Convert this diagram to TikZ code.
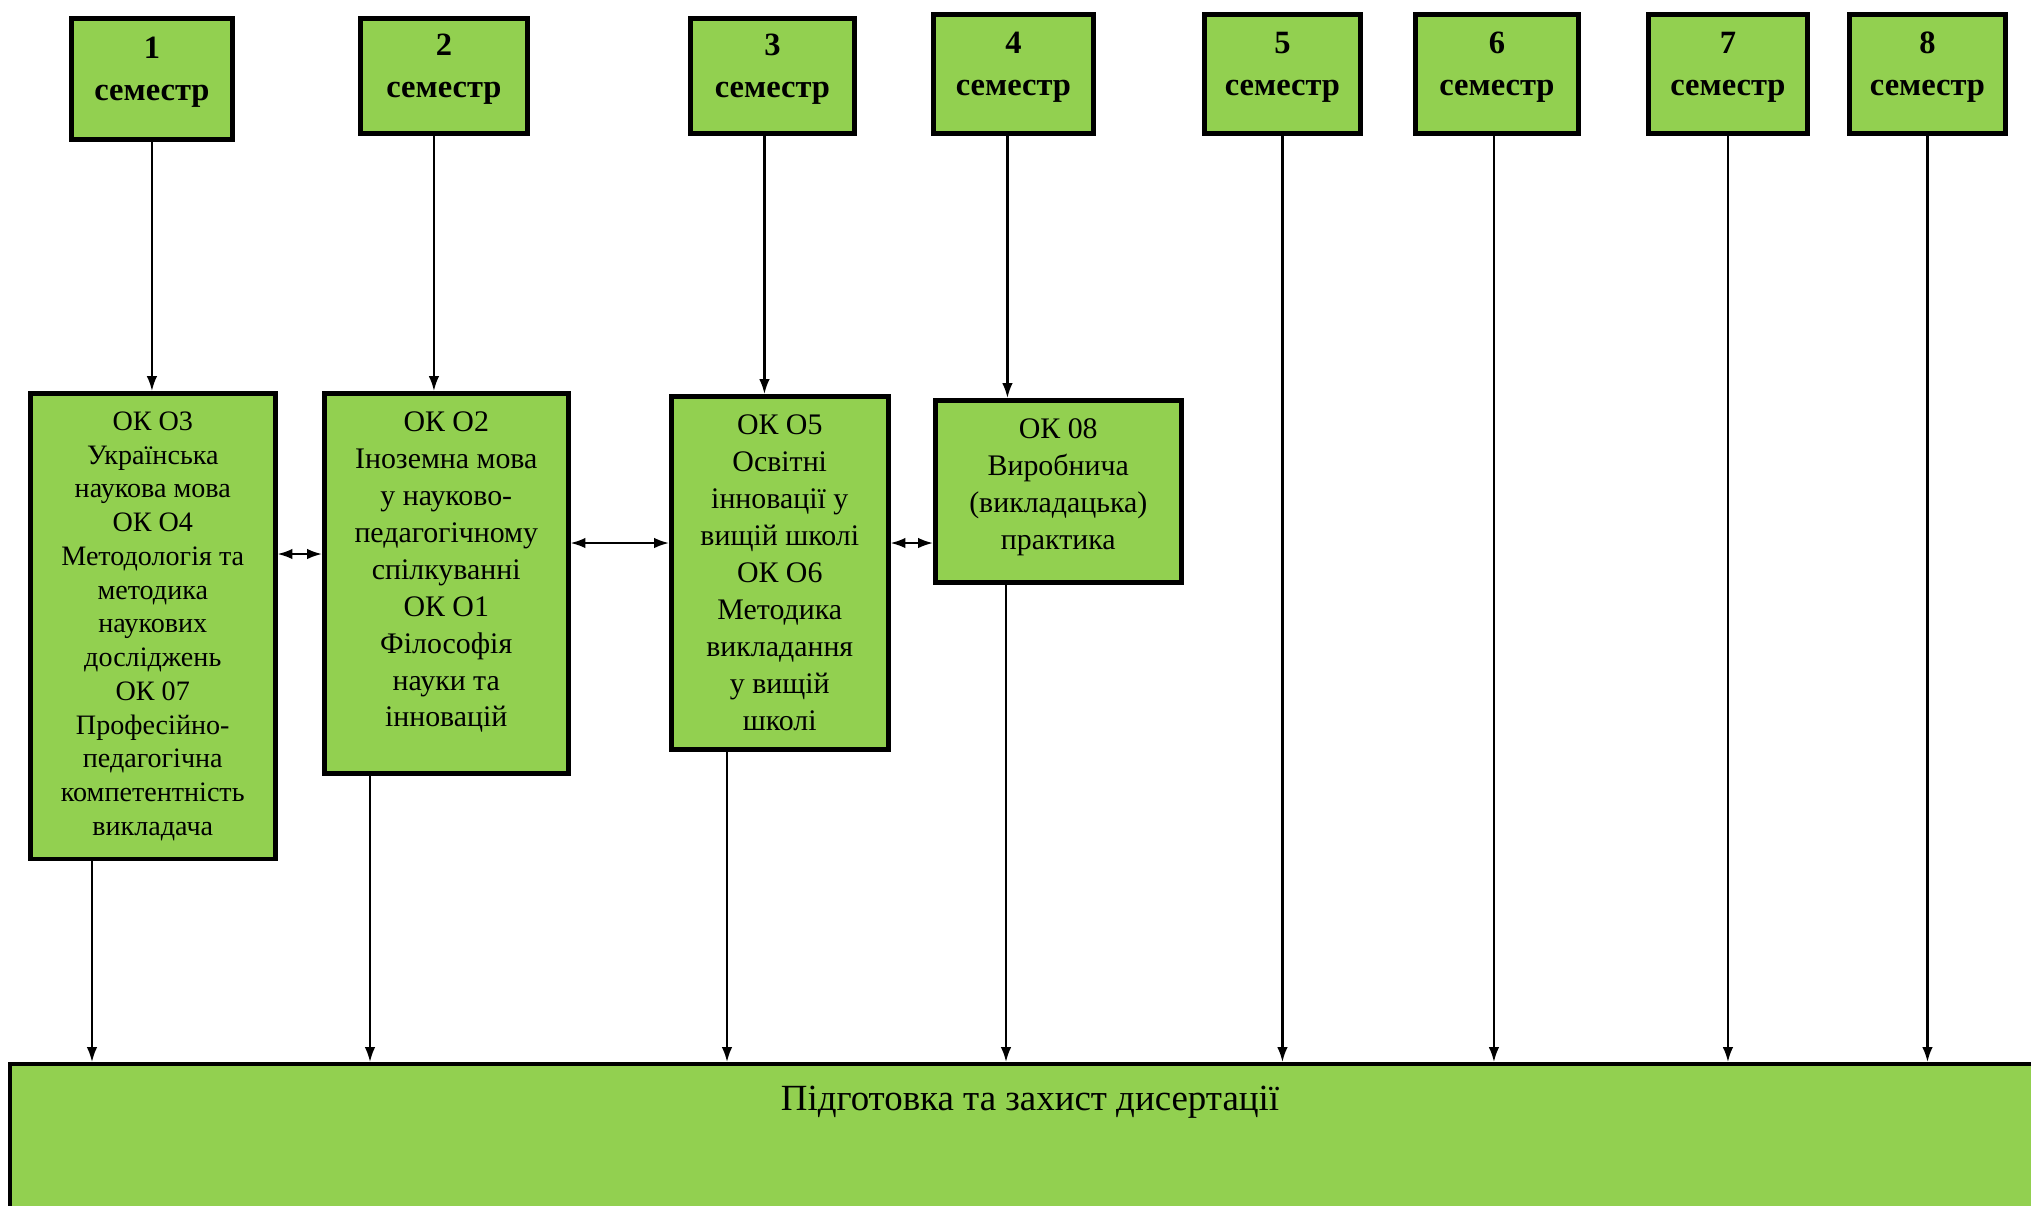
\documentclass[tikz,border=0pt]{standalone}
\usepackage{fontspec}
\setmainfont{Liberation Serif}
\usepackage{tikz}
\usetikzlibrary{positioning}
\usetikzlibrary{arrows.meta}
\definecolor{boxgreen}{RGB}{146,208,80}
\tikzset{>={Latex[length=8.5pt,width=6pt]}}
\tikzset{
  sembox/.style={draw, line width=2.8pt, fill=boxgreen, anchor=north west, align=center,
    inner sep=0pt, text depth=0.4cm, font=\fontsize{18.5}{24}\selectfont\bfseries},
  okbox/.style={draw, line width=2.6pt, fill=boxgreen, anchor=north west, align=center,
    inner sep=0pt, font=\fontsize{17}{21}\selectfont},
}

\begin{document}
\begin{tikzpicture}[x=0.02cm, y=-0.02cm, line width=1.2pt]
        \useasboundingbox (0,0) rectangle (2031,1205);
        \clip (0,0) rectangle (2031,1205);

        % 1. Semester boxes along the top
        \node[sembox, minimum width=3.22cm, minimum height=2.42cm] (s1) at (69,16) {1\\семестр};
        \node[sembox, minimum width=3.34cm, minimum height=2.30cm] (s2) at (358,16) {2\\семестр};
        \node[sembox, minimum width=3.28cm, minimum height=2.30cm] (s3) at (688,16) {3\\семестр};
        \node[sembox, minimum width=3.20cm, minimum height=2.38cm] (s4) at (931,12) {4\\семестр};
        \node[sembox, minimum width=3.12cm, minimum height=2.38cm] (s5) at (1202,12) {5\\семестр};
        \node[sembox, minimum width=3.26cm, minimum height=2.38cm] (s6) at (1413,12) {6\\семестр};
        \node[sembox, minimum width=3.18cm, minimum height=2.38cm] (s7) at (1646,12) {7\\семестр};
        \node[sembox, minimum width=3.12cm, minimum height=2.38cm] (s8) at (1847,12) {8\\семестр};

        % 2. Course boxes in the middle
        \node[okbox, minimum width=4.90cm, minimum height=9.32cm, font=\fontsize{16}{19.2}\selectfont] (A) at (28,391)
          {ОК О3\\Українська\\наукова мова\\ОК О4\\Методологія та\\методика\\наукових\\досліджень\\ОК 07\\Професійно-\\педагогічна\\компетентність\\викладача};
        \node[okbox, minimum width=4.88cm, minimum height=7.60cm, text depth=0.55cm] (B) at (322,391)
          {ОК О2\\Іноземна мова\\у науково-\\педагогічному\\спілкуванні\\ОК О1\\Філософія\\науки та\\інновацій};
        \node[okbox, minimum width=4.34cm, minimum height=7.06cm] (C) at (669,394)
          {ОК О5\\Освітні\\інновації у\\вищій школі\\ОК О6\\Методика\\викладання\\у вищій\\школі};
        \node[okbox, minimum width=4.92cm, minimum height=3.64cm, text depth=0.3cm] (D) at (933,398)
          {ОК 08\\Виробнича\\(викладацька)\\практика};

        % 3. Dissertation box at the bottom
        \node[draw, line width=2.5pt, fill=boxgreen, anchor=north west,
          minimum width=40.8cm, minimum height=4.8cm] (P) at (8,1062) {};
        \node[below=0.34cm of P.north, font=\fontsize{21}{25}\selectfont] (Ptxt) {Підготовка та захист дисертації};

        % 4. Arrows from semesters
        \draw[->] (s1.south) -- (s1.south |- A.north);
        \draw[->] ([xshift=-0.2cm]s2.south) -- ([xshift=-0.2cm]s2.south |- B.north);
        \draw[->] ([xshift=-0.16cm]s3.south) -- ([xshift=-0.16cm]s3.south |- C.north);
        \draw[->] ([xshift=-0.12cm]s4.south) -- ([xshift=-0.12cm]s4.south |- D.north);
        \draw[->] (s5.south) -- (s5.south |- P.north);
        \draw[->] ([xshift=-0.06cm]s6.south) -- ([xshift=-0.06cm]s6.south |- P.north);
        \draw[->] (s7.south) -- (s7.south |- P.north);
        \draw[->] (s8.south) -- (s8.south |- P.north);

        % 5. Arrows down to the dissertation
        \coordinate (xa) at (92,0);
        \coordinate (xb) at (370,0);
        \coordinate (xc) at (727,0);
        \coordinate (xd) at (1006,0);
        \draw[->] (xa |- A.south) -- (xa |- P.north);
        \draw[->] (xb |- B.south) -- (xb |- P.north);
        \draw[->] (xc |- C.south) -- (xc |- P.north);
        \draw[->] (xd |- D.south) -- (xd |- P.north);

        % 6. Links between courses
        \coordinate (yab) at (0,554);
        \coordinate (ybc) at (0,543);
        \draw[<->] (A.east |- yab) -- (B.west |- yab);
        \draw[<->] (B.east |- ybc) -- (C.west |- ybc);
        \draw[<->] (C.east |- ybc) -- (D.west |- ybc);
\end{tikzpicture}
\end{document}
